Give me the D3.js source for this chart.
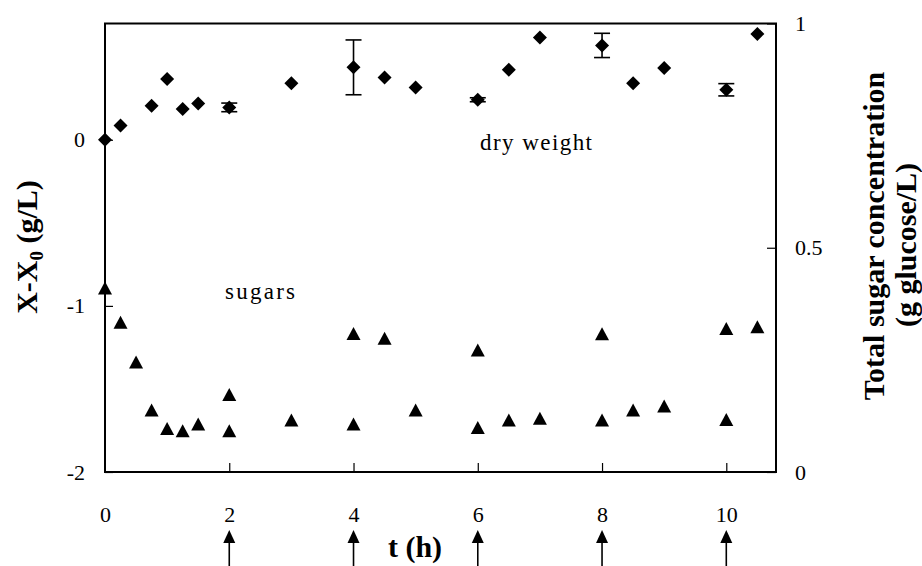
<!DOCTYPE html>
<html>
<head>
<meta charset="utf-8">
<script src="https://cdn.jsdelivr.net/npm/d3@7"></script>
<style>
  html, body { margin: 0; padding: 0; background: #fff; }
  svg { display: block; }
  text { font-family: "Liberation Serif", "Times New Roman", serif; fill: #000; }
</style>
</head>
<body>
<svg id="chart" width="922" height="566"></svg>
<script>
// ---- data ----
const dwTime  = [0, 0.25, 0.75, 1, 1.25, 1.5, 2, 3, 4, 4.5, 5, 6, 6.5, 7, 8, 8.5, 9, 10, 10.5];
const dwValue = [0, 0.086, 0.205, 0.366, 0.185, 0.219, 0.195, 0.341, 0.436, 0.375, 0.315, 0.241, 0.422, 0.616, 0.568, 0.341, 0.432, 0.301, 0.637];
const dwError = [0, 0, 0, 0, 0, 0, 0.026, 0, 0.165, 0, 0, 0.012, 0, 0, 0.073, 0, 0, 0.037, 0];

const sugarTime  = [0, 0.25, 0.5, 0.75, 1, 1.25, 1.5, 2, 2, 3, 4, 4, 4.5, 5, 6, 6, 6.5, 7, 8, 8, 8.5, 9, 10, 10, 10.5];
const sugarValue = [0.41, 0.334, 0.245, 0.138, 0.097, 0.092, 0.107, 0.173, 0.092, 0.116, 0.309, 0.107, 0.298, 0.138, 0.272, 0.099, 0.116, 0.120, 0.308, 0.116, 0.138, 0.147, 0.320, 0.117, 0.324];

const xTicks = [0, 2, 4, 6, 8, 10];
const yLeftTicks = [-2, -1, 0];
const yLeftLabels = ["-2", "-1", "0"];
const yRightTicks = [0, 0.5, 1];
const yRightLabels = ["0", "0.5", "1"];
const feedTimes = [2, 4, 6, 8, 10];

// ---- layout ----
const svg = d3.select("#chart");
const L = 105, R = 776, T = 23.5, B = 472;

const x = d3.scaleLinear().domain([0, 10.8]).range([L, R]);
const yL = d3.scaleLinear().domain([-2, 0.7]).range([B, T]);
const yR = d3.scaleLinear().domain([0, 1]).range([B, T]);

// frame
svg.append("rect")
  .attr("x", L).attr("y", T).attr("width", R - L).attr("height", B - T)
  .attr("fill", "none").attr("stroke", "#000").attr("stroke-width", 2);

function styleAxis(g, size) {
  g.select(".domain").remove();
  g.selectAll(".tick line").attr("stroke", "#000").attr("stroke-width", 1.2);
  g.selectAll(".tick text").style("font-size", size + "px")
    .style("font-family", '"Liberation Serif", "Times New Roman", serif');
}

svg.append("g").attr("transform", `translate(0,${B})`)
  .call(d3.axisBottom(x).tickValues(xTicks).tickFormat(d => String(d))
    .tickSizeInner(-9).tickSizeOuter(0).tickPadding(34))
  .call(g => styleAxis(g, 22))
  .call(g => g.selectAll(".tick").filter(d => d === 0).select("line").remove());

svg.append("g").attr("transform", `translate(${L},0)`)
  .call(d3.axisLeft(yL).tickValues(yLeftTicks).tickFormat((d, i) => yLeftLabels[i])
    .tickSizeInner(-8).tickSizeOuter(0).tickPadding(20))
  .call(g => styleAxis(g, 22));

svg.append("g").attr("transform", `translate(${R},0)`)
  .call(d3.axisRight(yR).tickValues(yRightTicks).tickFormat((d, i) => yRightLabels[i])
    .tickSizeInner(-9).tickSizeOuter(0).tickPadding(19))
  .call(g => styleAxis(g, 22));

// ---- dry weight (diamonds, left axis) with error bars ----
const dw = dwTime.map((t, i) => ({ t, v: dwValue[i], e: dwError[i] }));
const eb = svg.append("g").attr("stroke", "#000").attr("stroke-width", 1.6);
dw.filter(d => d.e > 0).forEach(d => {
  const cx = x(d.t), y1 = yL(d.v + d.e), y2 = yL(d.v - d.e);
  eb.append("line").attr("x1", cx).attr("x2", cx).attr("y1", y1).attr("y2", y2);
  eb.append("line").attr("x1", cx - 8).attr("x2", cx + 8).attr("y1", y1).attr("y2", y1);
  eb.append("line").attr("x1", cx - 8).attr("x2", cx + 8).attr("y1", y2).attr("y2", y2);
});
svg.append("g").selectAll("path").data(dw).join("path")
  .attr("d", "M0,-7L7,0L0,7L-7,0Z")
  .attr("transform", d => `translate(${x(d.t)},${yL(d.v)})`)
  .attr("fill", "#000");

// ---- sugars (triangles, right axis) ----
const sg = sugarTime.map((t, i) => ({ t, v: sugarValue[i] }));
svg.append("g").selectAll("path").data(sg).join("path")
  .attr("d", "M0,-6.5L7,6.5L-7,6.5Z")
  .attr("transform", d => `translate(${x(d.t)},${yR(d.v)})`)
  .attr("fill", "#000");

// ---- annotations ----
svg.append("text").attr("x", 480).attr("y", 150)
  .attr("textLength", 112).attr("lengthAdjust", "spacing")
  .style("font-size", "23px").text("dry weight");
svg.append("text").attr("x", 225).attr("y", 299)
  .attr("textLength", 70).attr("lengthAdjust", "spacing")
  .style("font-size", "23px").text("sugars");

// ---- axis titles ----
svg.append("text").attr("x", 415).attr("y", 557).attr("text-anchor", "middle")
  .style("font-size", "30px").style("font-weight", "bold").text("t (h)");

const lt = svg.append("text").attr("transform", "translate(37,247) rotate(-90)")
  .attr("text-anchor", "middle").style("font-size", "30px").style("font-weight", "bold");
lt.append("tspan").text("X-X");
lt.append("tspan").attr("dy", 6).style("font-size", "19px").text("0");
lt.append("tspan").attr("dy", -6).text(" (g/L)");

svg.append("text").attr("transform", "translate(884,236) rotate(-90)")
  .attr("text-anchor", "middle").style("font-size", "30px").style("font-weight", "bold")
  .text("Total sugar concentration");
svg.append("text").attr("transform", "translate(916,245) rotate(-90)")
  .attr("text-anchor", "middle").style("font-size", "30px").style("font-weight", "bold")
  .text("(g glucose/L)");

// ---- feeding arrows below the x axis ----
const ar = svg.append("g");
feedTimes.forEach(t => {
  const cx = x(t);
  ar.append("line").attr("x1", cx).attr("x2", cx).attr("y1", 540).attr("y2", 570)
    .attr("stroke", "#000").attr("stroke-width", 1.6);
  ar.append("path").attr("d", `M${cx},530L${cx + 6},543L${cx - 6},543Z`).attr("fill", "#000");
});
</script>
</body>
</html>
